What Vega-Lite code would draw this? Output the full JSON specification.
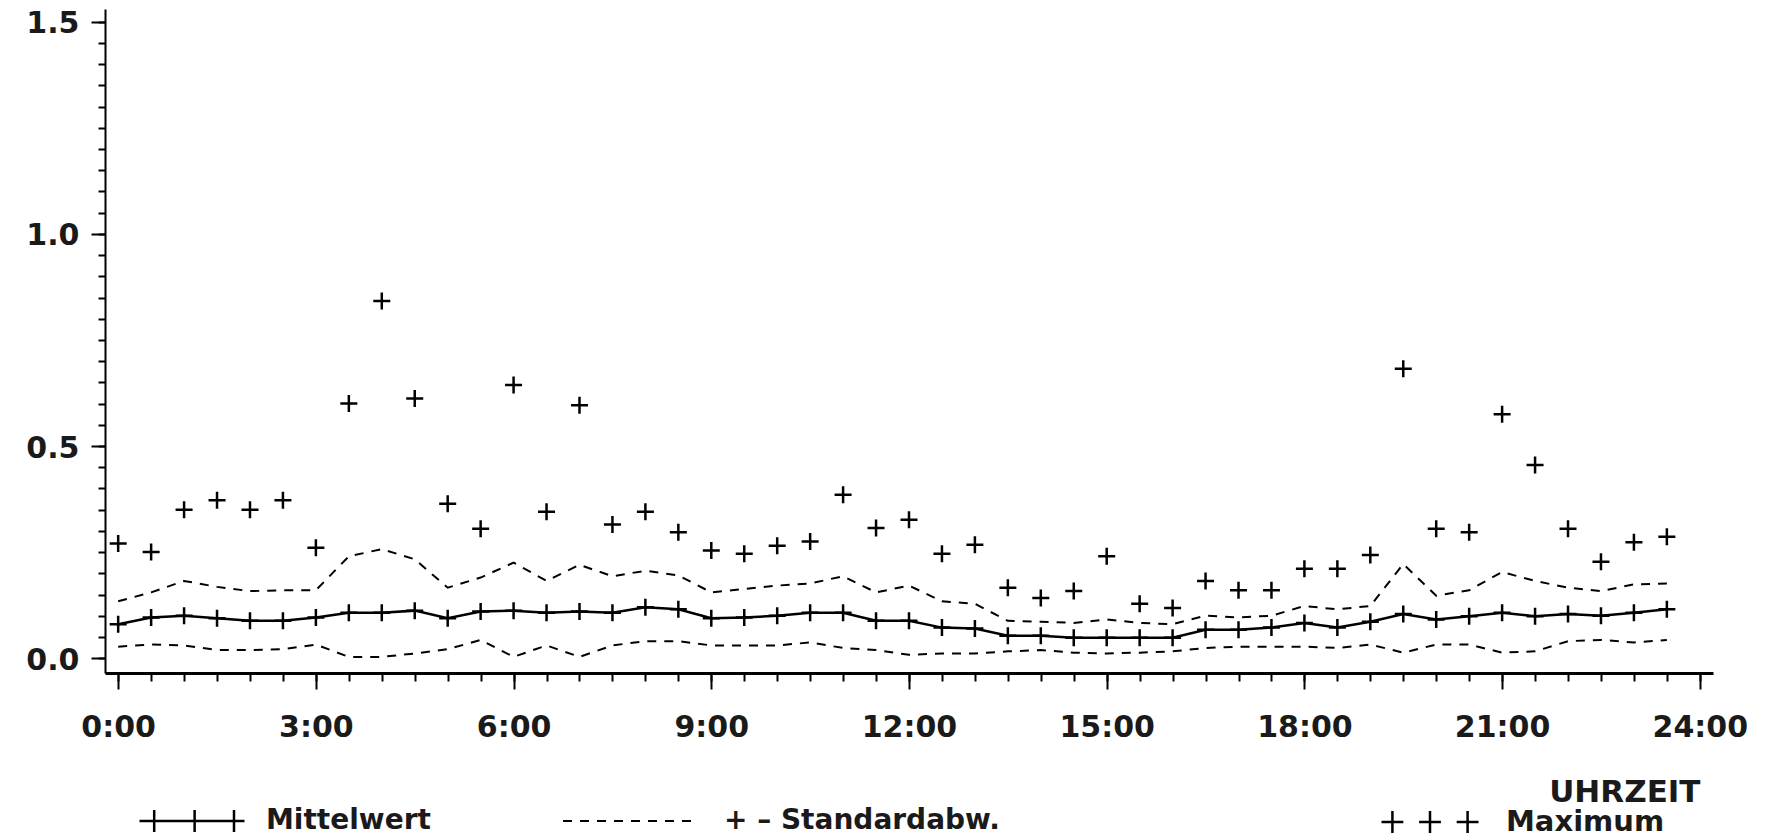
{
  "$schema": "https://vega.github.io/schema/vega-lite/v6.json",
  "width": 1608,
  "height": 664,
  "autosize": {"type": "none"},
  "padding": {"left": 105, "top": 9, "right": 58, "bottom": 165},
  "background": "white",
  "config": {
    "view": {"stroke": null},
    "axis": {
      "labelFont": "DejaVu Sans",
      "labelFontWeight": "bold",
      "labelFontSize": 30,
      "labelColor": "#1a1a1a",
      "domainColor": "black",
      "tickColor": "black",
      "grid": false,
      "titleFont": "DejaVu Sans"
    }
  },
  "data": {
    "values": [
      {"t": 0, "mw": 0.08, "so": 0.134, "su": 0.027, "max": 0.27},
      {"t": 0.5, "mw": 0.096, "so": 0.155, "su": 0.032, "max": 0.25},
      {"t": 1, "mw": 0.1, "so": 0.182, "su": 0.03, "max": 0.35},
      {"t": 1.5, "mw": 0.094, "so": 0.168, "su": 0.019, "max": 0.372},
      {"t": 2, "mw": 0.088, "so": 0.158, "su": 0.019, "max": 0.35},
      {"t": 2.5, "mw": 0.088, "so": 0.16, "su": 0.021, "max": 0.372},
      {"t": 3, "mw": 0.096, "so": 0.16, "su": 0.032, "max": 0.26},
      {"t": 3.5, "mw": 0.107, "so": 0.24, "su": 0.003, "max": 0.6},
      {"t": 4, "mw": 0.107, "so": 0.257, "su": 0.003, "max": 0.842},
      {"t": 4.5, "mw": 0.112, "so": 0.233, "su": 0.011, "max": 0.612},
      {"t": 5, "mw": 0.094, "so": 0.166, "su": 0.021, "max": 0.364},
      {"t": 5.5, "mw": 0.11, "so": 0.19, "su": 0.043, "max": 0.305},
      {"t": 6, "mw": 0.112, "so": 0.225, "su": 0.003, "max": 0.644},
      {"t": 6.5, "mw": 0.107, "so": 0.182, "su": 0.03, "max": 0.345},
      {"t": 7, "mw": 0.11, "so": 0.22, "su": 0.003, "max": 0.596},
      {"t": 7.5, "mw": 0.107, "so": 0.193, "su": 0.03, "max": 0.315},
      {"t": 8, "mw": 0.12, "so": 0.206, "su": 0.04, "max": 0.345},
      {"t": 8.5, "mw": 0.115, "so": 0.195, "su": 0.04, "max": 0.297},
      {"t": 9, "mw": 0.094, "so": 0.155, "su": 0.03, "max": 0.254},
      {"t": 9.5, "mw": 0.096, "so": 0.163, "su": 0.03, "max": 0.246},
      {"t": 10, "mw": 0.1, "so": 0.171, "su": 0.03, "max": 0.265},
      {"t": 10.5, "mw": 0.107, "so": 0.176, "su": 0.037, "max": 0.275},
      {"t": 11, "mw": 0.107, "so": 0.193, "su": 0.024, "max": 0.385},
      {"t": 11.5, "mw": 0.088, "so": 0.155, "su": 0.019, "max": 0.307},
      {"t": 12, "mw": 0.088, "so": 0.171, "su": 0.008, "max": 0.326},
      {"t": 12.5, "mw": 0.072, "so": 0.134, "su": 0.011, "max": 0.246},
      {"t": 13, "mw": 0.07, "so": 0.128, "su": 0.011, "max": 0.267},
      {"t": 13.5, "mw": 0.053, "so": 0.088, "su": 0.016, "max": 0.166},
      {"t": 14, "mw": 0.053, "so": 0.086, "su": 0.019, "max": 0.142},
      {"t": 14.5, "mw": 0.048, "so": 0.083, "su": 0.013, "max": 0.158},
      {"t": 15, "mw": 0.048, "so": 0.091, "su": 0.011, "max": 0.24},
      {"t": 15.5, "mw": 0.048, "so": 0.083, "su": 0.013, "max": 0.128},
      {"t": 16, "mw": 0.048, "so": 0.08, "su": 0.016, "max": 0.118},
      {"t": 16.5, "mw": 0.067, "so": 0.1, "su": 0.024, "max": 0.182},
      {"t": 17, "mw": 0.067, "so": 0.096, "su": 0.027, "max": 0.16},
      {"t": 17.5, "mw": 0.072, "so": 0.1, "su": 0.027, "max": 0.16},
      {"t": 18, "mw": 0.083, "so": 0.123, "su": 0.027, "max": 0.211},
      {"t": 18.5, "mw": 0.072, "so": 0.115, "su": 0.024, "max": 0.211},
      {"t": 19, "mw": 0.086, "so": 0.123, "su": 0.032, "max": 0.243},
      {"t": 19.5, "mw": 0.104, "so": 0.222, "su": 0.013, "max": 0.682},
      {"t": 20, "mw": 0.091, "so": 0.147, "su": 0.032, "max": 0.305},
      {"t": 20.5, "mw": 0.099, "so": 0.16, "su": 0.032, "max": 0.297},
      {"t": 21, "mw": 0.107, "so": 0.203, "su": 0.013, "max": 0.575},
      {"t": 21.5, "mw": 0.099, "so": 0.182, "su": 0.016, "max": 0.455},
      {"t": 22, "mw": 0.104, "so": 0.166, "su": 0.04, "max": 0.305},
      {"t": 22.5, "mw": 0.1, "so": 0.158, "su": 0.043, "max": 0.227},
      {"t": 23, "mw": 0.107, "so": 0.174, "su": 0.037, "max": 0.273},
      {"t": 23.5, "mw": 0.115, "so": 0.176, "su": 0.043, "max": 0.286}
    ]
  },
  "resolve": {"axis": {"x": "independent", "y": "independent"}},
  "layer": [
    {
      "mark": {"type": "line", "strokeWidth": 2.5},
      "encoding": {
        "x": {
          "field": "t", "type": "quantitative",
          "scale": {"domain": [-0.2, 24.2], "nice": false, "zero": false},
          "axis": {
            "orient": "bottom",
            "values": [0,0.5,1,1.5,2,2.5,3,3.5,4,4.5,5,5.5,6,6.5,7,7.5,8,8.5,9,9.5,10,10.5,11,11.5,12,12.5,13,13.5,14,14.5,15,15.5,16,16.5,17,17.5,18,18.5,19,19.5,20,20.5,21,21.5,22,22.5,23,23.5,24],
            "labels": false, "domain": false, "tickSize": 8, "tickWidth": 2, "title": null
          }
        },
        "y": {
          "field": "mw", "type": "quantitative",
          "scale": {"domain": [-0.035, 1.53], "nice": false, "zero": false},
          "axis": {
            "orient": "left",
            "values": [0,0.05,0.1,0.15,0.2,0.25,0.3,0.35,0.4,0.45,0.5,0.55,0.6,0.65,0.7,0.75,0.8,0.85,0.9,0.95,1,1.05,1.1,1.15,1.2,1.25,1.3,1.35,1.4,1.45,1.5],
            "labels": false, "domain": false, "tickSize": 7, "tickWidth": 2, "title": null
          }
        },
        "color": {
          "datum": "Mittelwert",
          "scale": {"range": ["black"]},
          "legend": {
            "orient": "none", "legendX": 33, "legendY": 758, "title": null, "padding": 0,
            "symbolType": "M-1,0H1M-0.72,-0.21V0.21M0.05,-0.21V0.21M0.8,-0.21V0.21",
            "symbolSize": 11025, "symbolStrokeWidth": 2.5, "symbolStrokeColor": "black", "symbolFillColor": "transparent",
            "labelOffset": 20, "labelLimit": 500, "labelFont": "DejaVu Sans", "labelFontWeight": "bold", "labelFontSize": 28, "labelColor": "#1a1a1a"
          }
        }
      }
    },
    {
      "mark": {"type": "point", "shape": "M-1,0H1M0,-1V1", "size": 289, "filled": false, "stroke": "black", "strokeWidth": 2.5, "opacity": 1},
      "encoding": {
        "x": {
          "field": "t", "type": "quantitative",
          "axis": {
            "orient": "bottom",
            "values": [0,3,6,9,12,15,18,21,24],
            "labelExpr": "datum.value + ':00'",
            "tickSize": 16, "tickWidth": 2, "domainWidth": 3, "labelPadding": 23,
            "title": "UHRZEIT", "titleX": 1595, "titleY": 128, "titleAlign": "right", "titleBaseline": "alphabetic",
            "titleFontSize": 31, "titleFontWeight": "bold", "titleColor": "#1a1a1a"
          }
        },
        "y": {
          "field": "mw", "type": "quantitative",
          "axis": {
            "orient": "left",
            "values": [0,0.5,1,1.5],
            "format": ".1f",
            "tickSize": 14, "tickWidth": 2, "domainWidth": 2, "labelPadding": 12, "labelOffset": 2,
            "title": null
          }
        }
      }
    },
    {
      "mark": {"type": "line", "strokeWidth": 2, "color": "black"},
      "encoding": {
        "x": {"field": "t", "type": "quantitative", "axis": null},
        "y": {"field": "so", "type": "quantitative", "axis": null},
        "strokeDash": {
          "datum": "Standardabw.",
          "scale": {"range": [[9, 8]]},
          "legend": {
            "orient": "none", "legendX": 457, "legendY": 747, "title": null, "padding": 0,
            "symbolType": "M-1,0H1", "symbolDash": [8, 7],
            "symbolSize": 16384, "symbolStrokeWidth": 2, "symbolStrokeColor": "black", "symbolFillColor": "transparent",
            "labelOffset": 32, "labelLimit": 600, "labelExpr": "'+ – ' + datum.label",
            "labelFont": "DejaVu Sans", "labelFontWeight": "bold", "labelFontSize": 28, "labelColor": "#1a1a1a"
          }
        }
      }
    },
    {
      "mark": {"type": "line", "strokeWidth": 2, "color": "black"},
      "encoding": {
        "x": {"field": "t", "type": "quantitative", "axis": null},
        "y": {"field": "su", "type": "quantitative", "axis": null},
        "strokeDash": {"datum": "Standardabw."}
      }
    },
    {
      "mark": {"type": "point", "shape": "M-1,0H1M0,-1V1", "size": 289, "filled": false, "strokeWidth": 2.5, "opacity": 1},
      "encoding": {
        "x": {"field": "t", "type": "quantitative", "axis": null},
        "y": {"field": "max", "type": "quantitative", "axis": null},
        "stroke": {
          "datum": "Maximum",
          "scale": {"range": ["black"]},
          "legend": {
            "orient": "none", "legendX": 1275, "legendY": 763, "title": null, "padding": 0,
            "symbolType": "M-1,0H-0.55M-0.775,-0.225V0.225M-0.225,0H0.225M0,-0.225V0.225M0.55,0H1M0.775,-0.225V0.225",
            "symbolSize": 9409, "symbolStrokeWidth": 2.5, "symbolStrokeColor": "black", "symbolFillColor": "transparent",
            "labelOffset": 26, "labelLimit": 500, "labelFont": "DejaVu Sans", "labelFontWeight": "bold", "labelFontSize": 29, "labelColor": "#1a1a1a"
          }
        }
      }
    }
  ]
}
